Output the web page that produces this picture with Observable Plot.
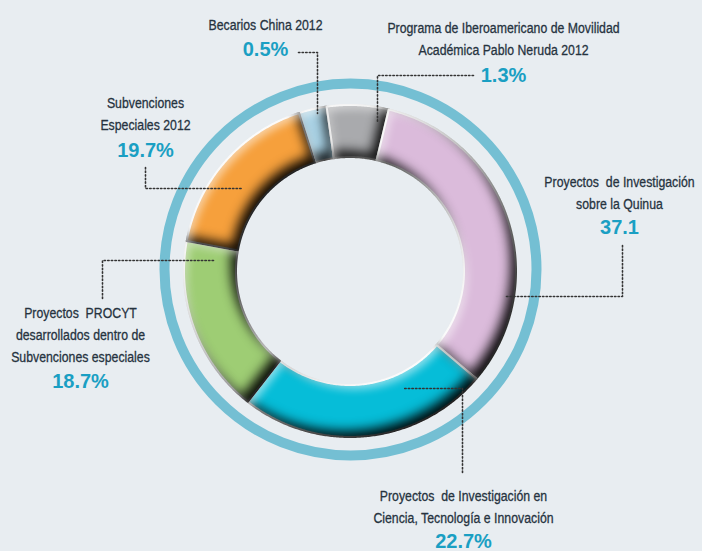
<!DOCTYPE html>
<html><head><meta charset="utf-8">
<script src="https://cdn.jsdelivr.net/npm/d3@7"></script>
<script src="https://cdn.jsdelivr.net/npm/@observablehq/plot@0.6"></script>
<style>
html,body{margin:0;padding:0;background:#e8edf1;}
#chart{width:702px;height:551px;}
#chart svg text{white-space:pre;}
</style></head><body><div id="chart"></div>
<script>
// ---- data (clockwise from the top-left light-blue slice) ----
const categories = [
  "Becarios China 2012",
  "Programa de Iberoamericano de Movilidad\nAcadémica Pablo Neruda 2012",
  "Proyectos  de Investigación\nsobre la Quinua",
  "Proyectos  de Investigación en\nCiencia, Tecnología e Innovación",
  "Proyectos  PROCYT\ndesarrollados dentro de\nSubvenciones especiales",
  "Subvenciones\nEspeciales 2012"
];
const valueLabels = ["0.5%", "1.3%", "37.1", "22.7%", "18.7%", "19.7%"];
// drawn share of each slice, in degrees
const sliceShares = [9.8, 21.6, 117, 87.5, 62.4, 61.7];

// ---- styles / layout ----
const sliceColors = ["#a9d2e5", "#a9aaad", "#dbbbdb", "#06bdd8", "#9ecd74", "#f6a03c"];
const W = 702, H = 551, cx = 350, cy = 271, rOuter = 166, rInner = 114, ringR = 186;
const startAngle = -17.9;
// label anchor: x, baseline of last text line, baseline of value
const labelX = [265, 503, 619, 463, 80, 145];
const labelY = [29, 54, 208, 522, 361, 129];
const valueY = [55, 81, 233, 547, 387, 156];
const leaders = [
  [[298,52],[317,52],[317,113]],
  [[473,75],[377,75],[377,122]],
  [[622,245],[622,296],[505,296]],
  [[462,472],[462,388],[403,388]],
  [[102,298],[102,260],[215,260]],
  [[145,167],[145,188],[242,188]]
];

let acc = startAngle;
const slices = categories.map((c, i) => { const a0 = acc; acc += sliceShares[i]; return {c, i, a0, a1: acc}; });
const arcPts = slices.flatMap(s => {
  const n = Math.max(2, Math.ceil((s.a1 - s.a0) / 0.5));
  return d3.range(n + 1).map(k => {
    const a = (s.a0 + (s.a1 - s.a0) * k / n) * Math.PI / 180;
    return {slice: s.c, color: sliceColors[s.i],
      x1: cx + rInner * Math.sin(a), y1: cy - rInner * Math.cos(a),
      x2: cx + rOuter * Math.sin(a), y2: cy - rOuter * Math.cos(a)};
  });
});
const labels = categories.map((c, i) => ({c, v: valueLabels[i], x: labelX[i], y: labelY[i], vy: valueY[i]}));
const leaderPts = leaders.flatMap((pts, i) => pts.map(([x, y]) => ({id: i, x, y})));

const plot = Plot.plot({
  width: W, height: H, margin: 0,
  x: {domain: [0, W], range: [0, W], axis: null},
  y: {domain: [0, H], range: [0, H], axis: null},
  style: {background: "#e8edf1", overflow: "visible"},
  marks: [
    Plot.dot([{x: cx, y: cy - 2}], {x: "x", y: "y", r: ringR, stroke: "#74bfd3", strokeWidth: 10, fill: "none"}),
    Plot.area(arcPts, {x1: "x1", y1: "y1", x2: "x2", y2: "y2", z: "slice", fill: "color", stroke: "white", strokeWidth: 2, curve: "linear"}),
    Plot.line(leaderPts, {x: "x", y: "y", z: "id", stroke: "#333", strokeWidth: 1.6, strokeDasharray: "1.4,2.2", curve: "linear"}),
    Plot.text(labels, {x: "x", y: "y", text: "c", lineAnchor: "bottom", lineHeight: 1.45, fontSize: 15,
      fill: "#26333f", stroke: "#26333f", strokeWidth: 0.3, fontFamily: "'Liberation Sans', Arial, sans-serif"}),
    Plot.text(labels, {x: "x", y: "vy", text: "v", lineAnchor: "bottom", fontSize: 20, fontWeight: 700,
      fill: "#1a9fc3", fontFamily: "'Liberation Sans', Arial, sans-serif"})
  ]
});

const svg = d3.select(plot);
svg.insert("defs", ":first-child").html(`
<filter id="bevel" x="-20%" y="-20%" width="140%" height="140%" color-interpolation-filters="sRGB">
 <feComponentTransfer in="SourceAlpha" result="inv"><feFuncA type="table" tableValues="1 0"/></feComponentTransfer>
 <feOffset in="inv" dx="-6" dy="-7" result="invOff"/>
 <feGaussianBlur in="invOff" stdDeviation="6" result="invBlur"/>
 <feFlood flood-color="#000" flood-opacity="0.95" result="black"/>
 <feComposite in="black" in2="invBlur" operator="in" result="shadow"/>
 <feComposite in="shadow" in2="SourceAlpha" operator="in" result="innerShadow"/>
 <feOffset in="inv" dx="4" dy="5" result="invOff2"/>
 <feGaussianBlur in="invOff2" stdDeviation="4" result="invBlur2"/>
 <feFlood flood-color="#fff" flood-opacity="0.55" result="white"/>
 <feComposite in="white" in2="invBlur2" operator="in" result="hl"/>
 <feComposite in="hl" in2="SourceAlpha" operator="in" result="innerHl"/>
 <feMerge><feMergeNode in="SourceGraphic"/><feMergeNode in="innerShadow"/><feMergeNode in="innerHl"/></feMerge>
</filter>`);
svg.select('g[aria-label="area"]').selectAll("path").attr("filter", "url(#bevel)");
document.getElementById("chart").append(plot);

// condense the category labels horizontally (narrow typeface look)
const labelGroup = svg.selectAll('g[aria-label="text"]').nodes()[0];
d3.select(labelGroup).selectAll("text").each(function() {
  const t = this.getAttribute("transform") || "";
  this.setAttribute("transform", t + " scale(0.82,1)");
});
</script>
</body></html>
